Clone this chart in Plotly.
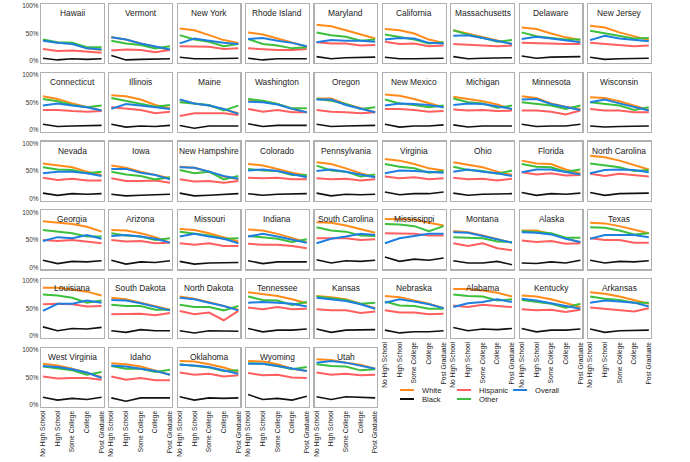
import plotly.graph_objects as go

W, H = 690, 462

states = [
    "Hawaii", "Vermont", "New York", "Rhode Island", "Maryland", "California", "Massachusetts", "Delaware", "New Jersey",
    "Connecticut", "Illinois", "Maine", "Washington", "Oregon", "New Mexico", "Michigan", "Minnesota", "Wisconsin",
    "Nevada", "Iowa", "New Hampshire", "Colorado", "Pennsylvania", "Virginia", "Ohio", "Florida", "North Carolina",
    "Georgia", "Arizona", "Missouri", "Indiana", "South Carolina", "Mississippi", "Montana", "Alaska", "Texas",
    "Louisiana", "South Dakota", "North Dakota", "Tennessee", "Kansas", "Nebraska", "Alabama", "Kentucky", "Arkansas",
    "West Virginia", "Idaho", "Oklahoma", "Wyoming", "Utah",
]

education = ["No High School", "High School", "Some College", "College", "Post Graduate"]

# values in percent, one row per state (same order as `states`)
white = [
    [38,33,32,23,20],[43,39,32,26,20],[59,56,47,38,33],[52,48,41,34,26],[66,63,56,48,41],
    [58,56,50,39,33],[56,50,44,38,31],[61,58,50,43,38],[64,61,52,45,38],
    [61,56,48,42,35],[63,61,55,45,39],[54,48,44,37,30],[55,52,47,38,32],[57,57,47,39,32],
    [64,62,56,48,41],[60,56,52,46,37],[61,58,48,42,38],[59,58,52,44,36],
    [64,61,57,49,43],[60,56,49,43,37],[58,56,49,40,35],[63,60,54,47,42],[66,63,55,46,39],
    [72,69,63,55,51],[66,62,57,49,43],[69,64,63,53,46],[78,75,69,61,53],
    [84,82,79,74,65],[68,67,62,55,45],[70,68,62,55,47],[69,67,61,53,46],[82,81,76,70,63],
    [88,88,87,81,76],[66,64,58,52,45],[67,67,61,53,45],[81,80,75,68,62],
    [88,88,85,81,74],[70,67,61,55,48],[72,68,62,55,48],[80,77,73,67,60],[73,71,67,59,51],
    [73,71,65,59,51],[86,86,83,79,72],[74,72,67,60,53],[80,77,72,66,59],
    [75,72,66,59,51],[76,74,70,63,55],[80,79,74,68,60],[80,79,74,66,62],[83,82,77,73,66],
]

black = [
    [5,2,4,3,4],[10,2,3,4,4],[7,4,4,4,5],[5,2,4,4,4],[8,4,6,7,7],
    [7,4,4,5,5],[8,4,5,6,6],[9,5,7,7,8],[7,3,4,4,5],
    [10,6,7,7,8],[10,5,7,6,8],[8,3,7,7,7],[11,6,8,8,8],[10,6,7,7,8],
    [10,5,7,7,9],[9,5,7,7,7],[10,6,7,7,10],[7,5,6,6,7],
    [10,6,9,8,9],[8,5,6,7,8],[10,5,6,7,9],[9,6,8,8,9],[10,5,8,7,8],
    [12,7,9,9,12],[10,6,8,8,9],[11,6,9,8,10],[11,6,9,9,10],
    [13,7,11,10,12],[13,6,10,9,12],[11,6,8,8,9],[12,7,10,10,10],[14,8,12,11,13],
    [19,11,15,13,17],[12,8,8,11,5],[8,7,10,8,13],[13,8,11,10,12],
    [17,10,14,13,16],[10,7,12,10,10],[10,6,10,10,9],[14,8,11,11,13],[13,7,11,11,12],
    [11,6,8,8,10],[16,10,13,12,14],[14,8,11,11,13],[13,7,10,10,11],
    [14,9,12,10,14],[13,7,13,13,13],[15,9,13,12,13],[19,10,12,9,16],[15,10,15,14,13],
]

hispanic = [
    [22,18,19,17,15],[19,21,20,16,20],[27,27,26,22,23],[23,21,20,20,22],[34,32,32,28,29],
    [35,31,32,27,28],[31,30,29,27,28],[33,32,32,31,31],[33,31,30,27,28],
    [36,36,34,33,34],[41,38,36,30,33],[25,30,30,30,27],[38,33,36,32,32],[36,33,32,30,32],
    [38,38,36,33,34],[37,35,36,34,35],[35,35,33,28,35],[38,35,35,32,32],
    [38,34,36,33,33],[37,32,32,33,29],[35,31,32,29,32],[38,37,38,35,35],[37,35,36,33,35],
    [40,37,39,35,37],[38,35,36,33,36],[48,44,46,42,43],[45,41,45,42,40],
    [50,48,50,47,44],[50,47,48,44,45],[44,41,44,39,39],[43,41,41,39,35],[53,53,53,50,51],
    [62,62,61,58,58],[44,39,44,35,31],[49,46,48,43,44],[53,50,50,45,45],
    [58,59,58,54,55],[40,41,41,38,42],[46,40,43,29,46],[52,49,53,49,50],[49,47,47,42,45],
    [47,43,43,40,41],[56,53,57,55,53],[49,47,48,44,48],[52,50,48,45,51],
    [52,48,49,49,46],[52,46,49,45,45],[59,55,57,52,54],[58,54,55,50,49],[59,55,57,54,55],
]

other = [
    [39,34,33,25,25],[37,32,29,23,27],[47,39,35,27,31],[40,31,28,23,25],[52,47,44,37,39],
    [48,43,39,32,34],[56,48,42,35,38],[52,45,42,39,39],[55,50,46,41,42],
    [56,52,45,41,44],[58,53,48,42,45],[50,47,45,35,44],[56,53,47,39,39],[56,53,47,38,41],
    [55,48,45,41,44],[57,50,48,40,44],[50,47,44,38,44],[50,47,44,36,41],
    [57,53,52,46,49],[49,44,41,35,39],[52,46,49,35,41],[54,51,50,43,43],[60,51,49,40,44],
    [63,58,55,47,50],[58,52,50,45,51],[63,58,57,49,53],[64,60,57,50,52],
    [68,65,62,56,56],[62,58,56,50,53],[65,61,58,52,53],[57,55,52,46,51],[73,67,65,58,57],
    [79,78,75,66,75],[55,54,53,47,46],[66,64,62,54,54],[73,72,67,60,62],
    [76,74,70,61,65],[57,55,55,48,48],[57,53,53,47,55],[72,66,65,57,62],[72,69,66,59,61],
    [63,56,55,50,50],[76,73,72,65,67],[66,62,59,52,59],[72,68,66,61,61],
    [70,66,63,55,60],[71,66,66,60,64],[74,71,68,62,63],[76,75,71,65,69],[74,71,70,63,65],
]

overall = [
    [37,33,31,23,21],[43,39,32,26,21],[32,41,37,33,31],[40,42,37,33,27],[34,38,37,37,35],
    [39,42,41,33,32],[46,47,42,37,31],[40,44,41,38,34],[38,46,41,39,36],
    [44,48,44,41,35],[38,47,44,41,38],[55,48,44,38,29],[51,50,46,38,32],[55,55,45,38,32],
    [44,48,47,45,41],[45,48,47,43,38],[55,56,47,41,36],[50,55,48,41,35],
    [46,49,49,46,41],[54,54,47,43,35],[57,56,49,41,36],[51,53,50,45,39],[50,53,49,44,39],
    [46,51,50,48,47],[49,53,49,46,41],[48,53,53,49,44],[46,52,53,52,48],
    [48,55,53,59,52],[57,59,56,52,45],[56,61,56,52,44],[56,61,56,51,45],[44,52,56,61,59],
    [44,53,57,61,61],[64,63,57,51,45],[64,63,60,52,46],[52,59,59,59,55],
    [46,59,59,65,61],[66,65,60,54,47],[70,67,61,55,47],[61,62,61,59,54],[70,67,64,58,50],
    [61,67,63,58,51],[53,60,62,67,62],[68,65,60,55,50],[61,65,63,61,54],
    [71,69,65,59,49],[72,70,66,62,55],[73,72,69,63,57],[75,75,71,66,62],[77,80,77,71,66],
]

y_tickvals = [0, 0.5, 1]
y_ticktext = ["0%", "50%", "100%"]

series = [
    ("White", white, "#ff8c1a", 2.0),
    ("Hispanic", hispanic, "#ff5f5f", 2.0),
    ("Black", black, "#111111", 1.6),
    ("Other", other, "#3cbf3c", 2.0),
    ("Overall", overall, "#1f7fe0", 2.0),
]

NCOL = 9
x0, xpitch, pw = 41.0, 68.4, 62.5
y0, ypitch, ph = 4.0, 68.8, 59.0
FONT = "Liberation Sans, Arial, sans-serif"

fig = go.Figure()
layout = dict(
    width=W, height=H, margin=dict(l=0, r=0, t=0, b=0, autoexpand=False),
    paper_bgcolor="white", plot_bgcolor="white", showlegend=False,
    font=dict(family=FONT, color="#333333"),
)
annotations = []
shapes = []
n = len(states)
xs = list(range(len(education)))

for i, st in enumerate(states):
    r, c = divmod(i, NCOL)
    k = i + 1
    xa = "xaxis" if k == 1 else f"xaxis{k}"
    ya = "yaxis" if k == 1 else f"yaxis{k}"
    xr = "x" if k == 1 else f"x{k}"
    yr = "y" if k == 1 else f"y{k}"
    left = x0 + c * xpitch
    top = y0 + r * ypitch
    bottom_in_col = (i + NCOL >= n)
    layout[xa] = dict(
        domain=[left / W, (left + pw) / W], anchor=yr,
        range=[-0.13, 4.13], showgrid=False, zeroline=False,
        showline=True, mirror=True, linecolor="#b0b0b0", linewidth=1.2,
        tickvals=xs, ticktext=education, tickangle=-90, ticks="",
        showticklabels=bottom_in_col, tickfont=dict(size=6.6, color="#222222"),
        automargin=False,
    )
    layout[ya] = dict(
        domain=[1 - (top + ph) / H, 1 - top / H], anchor=xr,
        range=[-0.036, 1.036], showgrid=False, zeroline=False,
        showline=True, mirror=True, linecolor="#b0b0b0", linewidth=1.2,
        tickvals=y_tickvals, ticktext=y_ticktext, ticks="",
        showticklabels=(c == 0), tickfont=dict(size=6.4, color="#333333"),
        automargin=False,
    )
    for name, data, color, lw in series:
        fig.add_trace(go.Scatter(
            x=xs, y=[v / 100 for v in data[i]], mode="lines", name=name,
            line=dict(color=color, width=lw), xaxis=xr, yaxis=yr,
            showlegend=False, hoverinfo="skip",
        ))
    annotations.append(dict(
        text=st, xref=f"{xr} domain", yref=f"{yr} domain", x=0.5, y=1,
        xanchor="center", yanchor="top", yshift=-2, showarrow=False,
        font=dict(size=8.4, color="#222222", family=FONT),
    ))

# legend (drawn manually: 2 rows x 3 columns)
def px(x): return x / W
def py(y): return 1 - y / H

legend_items = [
    ("White", "#ff8c1a", 400, 390),
    ("Black", "#111111", 400, 399),
    ("Hispanic", "#ff5f5f", 457, 390),
    ("Other", "#3cbf3c", 457, 399),
    ("Overall", "#1f7fe0", 513, 390),
]
for name, color, lx, ly in legend_items:
    shapes.append(dict(type="line", xref="paper", yref="paper",
                       x0=px(lx), x1=px(lx + 14), y0=py(ly), y1=py(ly),
                       line=dict(color=color, width=2)))
    annotations.append(dict(text=name, xref="paper", yref="paper",
                            x=px(lx + 20), y=py(ly), xanchor="left", yanchor="middle",
                            showarrow=False, font=dict(size=7.6, color="#222222", family=FONT)))

layout["annotations"] = annotations
layout["shapes"] = shapes
fig.update_layout(**layout)
fig.write_html("out.html", config={"displayModeBar": False, "staticPlot": True},
               post_script="document.body.style.margin='0';")
